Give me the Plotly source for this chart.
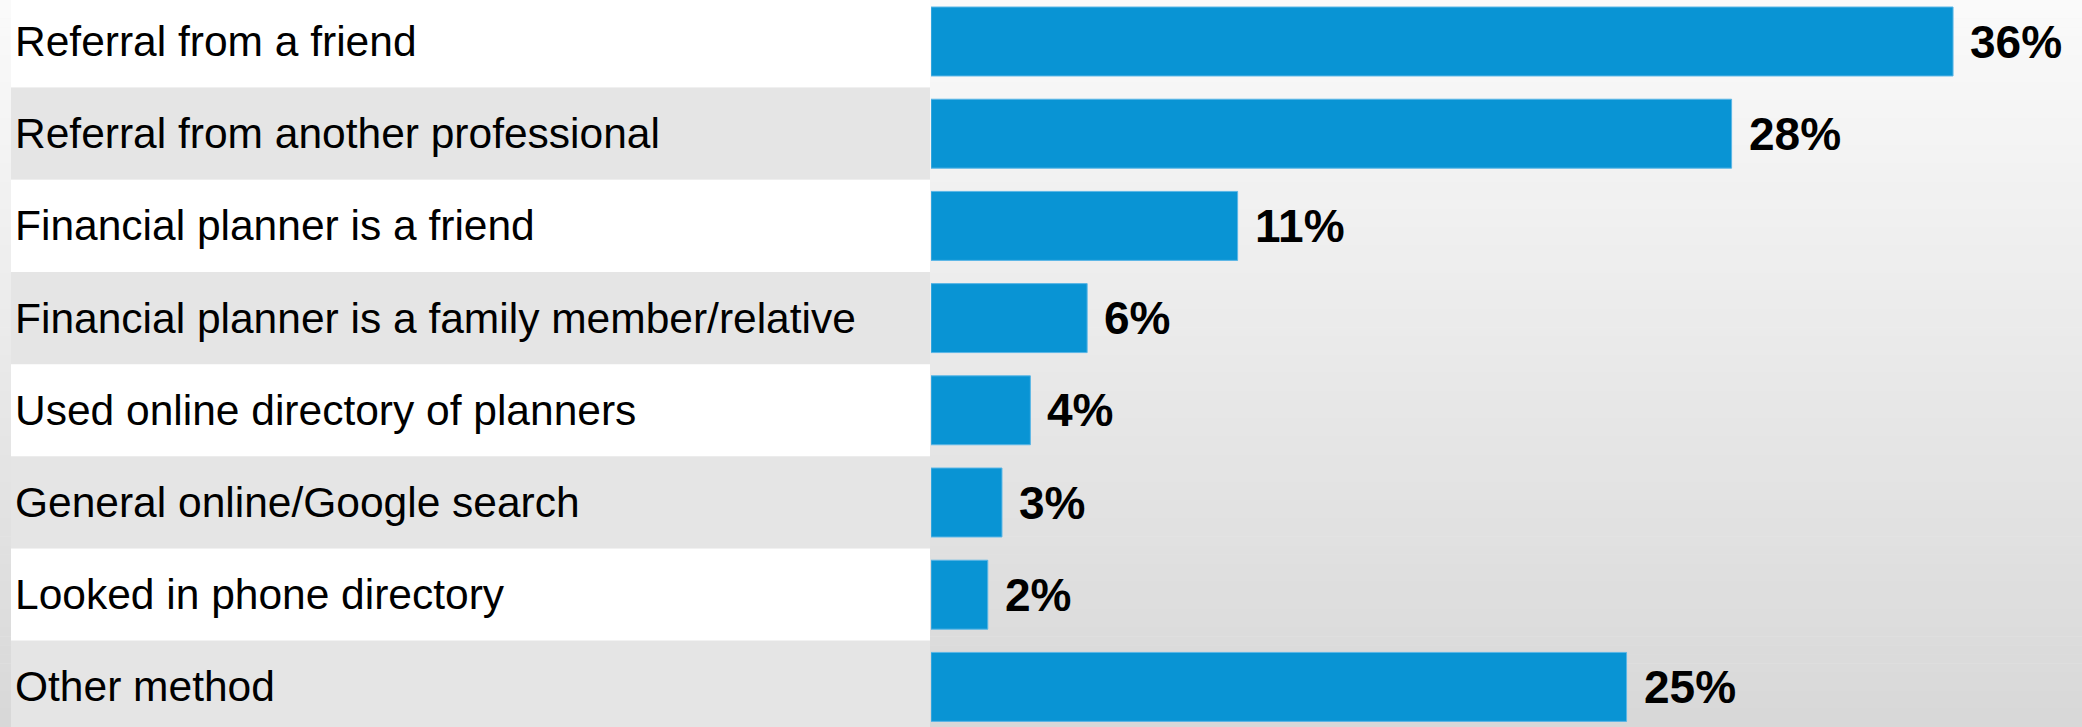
import plotly.graph_objects as go

# How clients found their financial planner
categories = [
    "Referral from a friend",
    "Referral from another professional",
    "Financial planner is a friend",
    "Financial planner is a family member/relative",
    "Used online directory of planners",
    "General online/Google search",
    "Looked in phone directory",
    "Other method",
]
values = [36.0, 28.2, 10.8, 5.5, 3.5, 2.5, 2.0, 24.5]
value_labels = ["36%", "28%", "11%", "6%", "4%", "3%", "2%", "25%"]

W, H = 2082, 727
left = 931  # where the bars start
plot_w = W - left
px_per_unit = 28.39
row_pitch = 92.2
first_row_center = 41.5

FONT = "Liberation Sans, Arial, sans-serif"

fig = go.Figure()

fig.add_trace(
    go.Bar(
        x=values,
        y=categories,
        orientation="h",
        marker=dict(color="#0994d4", line=dict(color="#5ab6e6", width=1)),
        hoverinfo="skip",
        showlegend=False,
    )
)

shapes = []
# vertical grey gradient background, drawn as thin strips
n = 80
top, bottom = (250, 250, 250), (216, 216, 216)
for i in range(n):
    t = i / (n - 1)
    c = tuple(round(a + (b - a) * t) for a, b in zip(top, bottom))
    shapes.append(dict(
        type="rect", xref="paper", yref="paper", layer="below",
        x0=-left / plot_w, x1=1, y0=1 - (i + 1.05) / n, y1=1 - i / n,
        fillcolor="rgb(%d,%d,%d)" % c, line=dict(width=0),
    ))

# alternating label bands
for i, cat in enumerate(categories):
    shapes.append(dict(
        type="rect", xref="paper", yref="y", layer="below",
        x0=(11 - left) / plot_w, x1=-1 / plot_w, y0=i - 0.5, y1=i + 0.5,
        fillcolor="#ffffff" if i % 2 == 0 else "#e5e5e5", line=dict(width=0),
    ))

annotations = []
for cat in categories:
    annotations.append(dict(
        xref="paper", yref="y", x=(13 - left) / plot_w, y=cat,
        text=cat, showarrow=False, xanchor="left", yanchor="middle",
        font=dict(family=FONT, size=42.5, color="#000000"),
    ))
for cat, v, lab in zip(categories, values, value_labels):
    annotations.append(dict(
        xref="x", yref="y", x=v, y=cat, text="<b>%s</b>" % lab,
        showarrow=False, xanchor="left", yanchor="middle", xshift=15,
        font=dict(family=FONT, size=46, color="#000000"),
    ))

fig.update_layout(
    width=W,
    height=H,
    margin=dict(l=left, r=0, t=0, b=0, autoexpand=False),
    paper_bgcolor="#f0f0f0",
    plot_bgcolor="rgba(0,0,0,0)",
    bargap=0.252,
    shapes=shapes,
    annotations=annotations,
    xaxis=dict(range=[0, plot_w / px_per_unit], visible=False, fixedrange=True),
    yaxis=dict(
        type="category",
        categoryorder="array",
        categoryarray=categories,
        range=[(H - first_row_center) / row_pitch, -first_row_center / row_pitch],
        visible=False,
        fixedrange=True,
    ),
)

# drop the browser's default 8px body margin so the chart sits at the corner
fig.write_html(
    "out.html",
    config={"displayModeBar": False},
    post_script="document.body.style.margin='0';document.body.style.overflow='hidden';",
)
